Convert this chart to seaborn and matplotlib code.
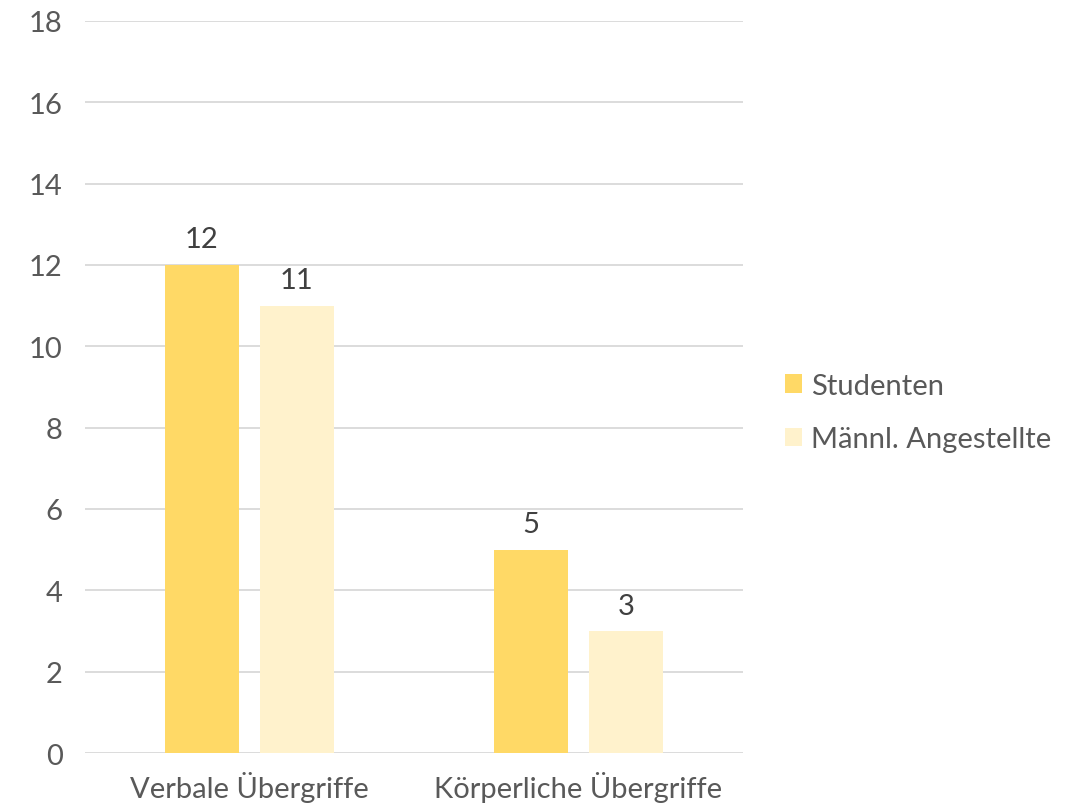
import matplotlib
matplotlib.use("Agg")
import matplotlib.pyplot as plt
import seaborn as sns
import pandas as pd

categories = ["Verbale Übergriffe", "Körperliche Übergriffe"]
series_names = ["Studenten", "Männl. Angestellte"]
studenten = [12, 5]
angestellte = [11, 3]
y_ticks = [0, 2, 4, 6, 8, 10, 12, 14, 16, 18]

colors = ["#FFD966", "#FFF2CC"]
text_color = "#595959"
grid_color = "#D9D9D9"

df = pd.DataFrame({
    "Kategorie": categories * 2,
    "Gruppe": [series_names[0]] * 2 + [series_names[1]] * 2,
    "Anzahl": studenten + angestellte,
})

sns.set_theme(style="white")
plt.rcParams["font.family"] = ["Lato", "DejaVu Sans"]

fig = plt.figure(figsize=(10.81, 8.12), dpi=100)
ax = fig.add_axes([0.0786, 0.0714, 0.6086, 0.9016])

sns.barplot(data=df, x="Kategorie", y="Anzahl", hue="Gruppe",
            order=categories, hue_order=series_names,
            palette=colors, width=0.578, gap=0.22, saturation=1,
            linewidth=0, ax=ax, zorder=3, err_kws={"linewidth": 0})

ax.set_ylim(0, 18)
ax.set_xlim(-0.5, 1.5)
ax.set_yticks(y_ticks)
ax.yaxis.grid(True, color=grid_color, linewidth=1.3, zorder=0)
ax.set_axisbelow(True)
for s in ax.spines.values():
    s.set_visible(False)
ax.tick_params(axis="both", length=0, labelsize=21, colors=text_color)
ax.tick_params(axis="y", pad=16)
ax.tick_params(axis="x", pad=13)
ax.set_xlabel("")
ax.set_ylabel("")

for cont in ax.containers:
    ax.bar_label(cont, fmt="%g", padding=9, fontsize=21, color="#404040")

handles, labels = ax.get_legend_handles_labels()
leg = ax.legend(handles, labels, loc="center left", bbox_to_anchor=(1.046, 0.465),
                borderaxespad=0, frameon=False, fontsize=21,
                handlelength=0.6, handleheight=0.6,
                handletextpad=0.3, labelspacing=0.95, labelcolor=text_color)

fig.savefig("out.png", dpi=100)
